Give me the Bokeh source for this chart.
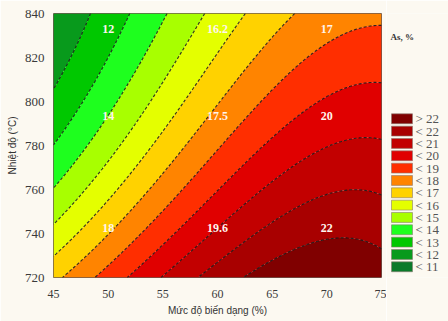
import numpy as np
from bokeh.plotting import figure
from bokeh.layouts import row
from bokeh.models import ColumnDataSource, Range1d, FixedTicker
from bokeh.embed import file_html
from bokeh.resources import INLINE
from bokeh.core.properties import value

# Response surface As(%) = f(deformation, temperature), cubic in coded units
# u = (deformation - 60) / 15, w = (temperature - 780) / 60
# terms: 1, u, w, u^2, u*w, w^2, u^3, u^2*w, u*w^2, w^3
surface_coef = [17.8971, 4.3677, -3.0511, -1.3381, 0.2033,
                0.5004, -0.8189, 0.4920, -0.4384, -0.0194]

deform_range = [45, 75]
temp_range = [720, 840]
deform_ticks = [45, 50, 55, 60, 65, 70, 75]
temp_ticks = [720, 740, 760, 780, 800, 820, 840]

contour_levels = [11, 12, 13, 14, 15, 16, 17, 18, 19, 20, 21, 22]
# band colours from lowest (< 11) to highest (> 22)
band_colors = ["#0a7a2a", "#089a1c", "#00c800", "#1eff1e", "#a8ff00", "#e4ff00",
               "#ffd200", "#ff8400", "#ff2e00", "#e00000", "#c20000", "#a80000", "#800000"]
legend_labels = ["< 11", "< 12", "< 13", "< 14", "< 15", "< 16", "< 17",
                 "< 18", "< 19", "< 20", "< 21", "< 22", "> 22"]

# measured values at the experimental points
pt_deform = [50, 60, 70, 50, 60, 70, 50, 60, 70]
pt_temp = [840, 840, 840, 790, 790, 790, 740, 740, 740]
pt_value = ["12", "16.2", "17", "14", "17.5", "20", "18", "19.6", "22"]


def surface(x, y):
    u = (x - 60) / 15
    w = (y - 780) / 60
    terms = [np.ones_like(u), u, w, u * u, u * w, w * w, u ** 3, u * u * w, u * w * w, w ** 3]
    return sum(c * t for c, t in zip(surface_coef, terms))


xs = np.linspace(deform_range[0], deform_range[1], 181)
ys = np.linspace(temp_range[0], temp_range[1], 181)
XX, YY = np.meshgrid(xs, ys)
Z = surface(XX, YY)

BG = "#fcf9f1"
p = figure(width=386, height=321, x_range=Range1d(*deform_range), y_range=Range1d(*temp_range),
           output_backend="svg", toolbar_location=None,
           min_border_left=53, min_border_right=5, min_border_top=13, min_border_bottom=44,
           background_fill_color=BG, border_fill_color=BG)
levels = [min(Z.min(), contour_levels[0]) - 1] + contour_levels + [max(Z.max(), contour_levels[-1]) + 1]
p.contour(x=xs, y=ys, z=Z, levels=levels, fill_color=band_colors,
          line_color="#1a1a1a", line_dash="3 2", line_width=1.1, line_alpha=0.9)

src = ColumnDataSource(dict(x=pt_deform, y=pt_temp, t=pt_value,
                            off=[15, 15, 15, -8, -8, -8, -6, -6, -6]))
p.text(x="x", y="y", text="t", y_offset="off", source=src, text_color="#fff4ee",
       text_font=value("Liberation Serif"), text_font_style="bold", text_font_size="12px",
       text_align="center", text_baseline="middle")

p.grid.visible = False
p.outline_line_color = "#6b5a50"
p.xaxis.ticker = FixedTicker(ticks=deform_ticks)
p.yaxis.ticker = FixedTicker(ticks=temp_ticks)
for ax in (p.xaxis, p.yaxis):
    ax.axis_line_color = None
    ax.major_tick_line_color = None
    ax.minor_tick_line_color = None
    ax.major_label_text_font = "Liberation Serif"
    ax.major_label_text_color = "#3a3a3a"
    ax.axis_label_text_font = "Liberation Sans"
    ax.axis_label_text_font_style = "normal"
    ax.axis_label_text_color = "#333333"
    ax.axis_label_text_font_size = "10px"
p.xaxis.major_label_text_font_size = "12px"
p.yaxis.major_label_text_font_size = "13px"
p.xaxis.major_label_standoff = 6
p.yaxis.major_label_standoff = 3
p.xaxis.axis_label = "Mức độ biến dạng (%)"
p.yaxis.axis_label = "Nhiệt độ (°C)"
p.xaxis.axis_label_standoff = 4
p.yaxis.axis_label_standoff = 4

# legend panel, pixel-like coordinates with y growing downwards
lg = figure(width=62, height=321, x_range=Range1d(0, 62), y_range=Range1d(321, 0),
            output_backend="svg", toolbar_location=None, min_border=0,
            background_fill_color=BG, border_fill_color=BG)
lg.axis.visible = False
lg.grid.visible = False
lg.outline_line_color = None
n = len(legend_labels)
row_y = [128 + 15 * i for i in range(n)]
lsrc = ColumnDataSource(dict(y=row_y, c=band_colors[::-1], t=legend_labels[::-1]))
lg.rect(x=15.5, y="y", width=21, height=12, fill_color="c", line_color="#8a7a70",
        line_width=0.6, source=lsrc)
lg.text(x=29, y="y", text="t", source=lsrc, text_font=value("Liberation Serif"),
        text_font_size="13px", text_color="#555555", text_baseline="middle")
lg.text(x=[4], y=[28], text=["As, %"], text_font=value("Liberation Serif"), text_font_style="bold",
        text_font_size="9px", text_color="#333333", text_baseline="middle")

layout = row(p, lg)
open("out.html", "w").write(file_html(layout, INLINE))
